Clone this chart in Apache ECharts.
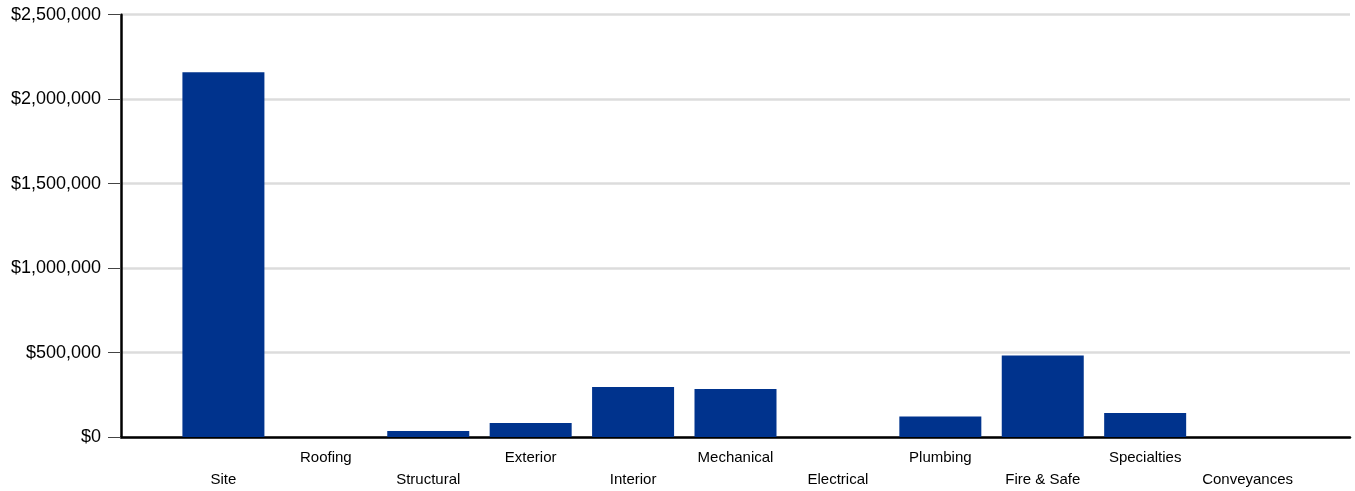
<!DOCTYPE html>
<html>
<head>
<meta charset="utf-8">
<script src="https://cdn.jsdelivr.net/npm/echarts@6/dist/echarts.min.js"></script>
<style>
html,body{margin:0;padding:0;background:#fff;}
#chart{width:1355px;height:491px;}
</style>
</head>
<body>
<div id="chart"></div>
<script>
var categories = ['Site','Roofing','Structural','Exterior','Interior','Mechanical','Electrical','Plumbing','Fire & Safe','Specialties','Conveyances'];
var values = [2160000, 0, 35000, 83000, 296000, 284000, 0, 122000, 483000, 142000, 0];
var yTicks = [0, 500000, 1000000, 1500000, 2000000, 2500000];

var padCats = [''].concat(categories).concat(['']);
var padVals = [null].concat(values).concat([null]);

function fmtMoney(v){
  return '$' + String(v).replace(/\B(?=(\d{3})+(?!\d))/g, ',');
}

var chart = echarts.init(document.getElementById('chart'), null, {renderer:'canvas'});
chart.setOption({
  animation:false,
  textStyle:{fontFamily:'Liberation Sans, Arial, sans-serif'},
  grid:{left:121, right:5, top:14.7, bottom:54, containLabel:false},
  xAxis:{
    type:'category',
    data:padCats,
    boundaryGap:false,
    axisLine:{show:true, onZero:false, lineStyle:{color:'#000', width:2.5}},
    axisTick:{show:false},
    splitLine:{show:false},
    axisLabel:{
      interval:0,
      margin:10,
      color:'#000',
      fontSize:15,
      lineHeight:22,
      fontFamily:'Liberation Sans, Arial, sans-serif',
      formatter:function(v, i){
        if(!v) return '';
        return (i % 2 === 1) ? '\n' + v : v;
      }
    }
  },
  yAxis:{
    type:'value',
    min:yTicks[0],
    max:yTicks[yTicks.length-1],
    interval:yTicks[1]-yTicks[0],
    axisLine:{show:true, lineStyle:{color:'#000', width:2.5}},
    axisTick:{show:true, inside:false, length:13, lineStyle:{color:'#444', width:1}},
    splitLine:{show:true, lineStyle:{color:'#dcdcdc', width:2.5}},
    axisLabel:{
      margin:20,
      color:'#000',
      fontSize:18,
      fontFamily:'Liberation Sans, Arial, sans-serif',
      formatter:function(v){ return fmtMoney(v); }
    }
  },
  series:[{
    type:'bar',
    data:padVals,
    barWidth:82,
    itemStyle:{color:'#00338D'}
  }]
});
</script>
</body>
</html>
